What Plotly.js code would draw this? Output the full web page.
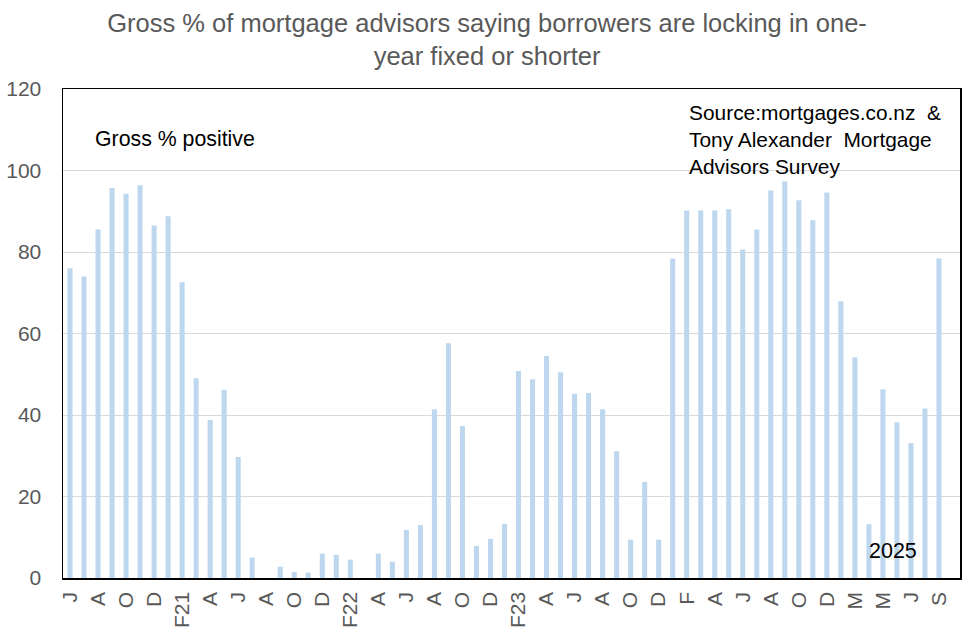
<!DOCTYPE html>
<html>
<head>
<meta charset="utf-8">
<script src="https://cdn.plot.ly/plotly-3.0.1.min.js"></script>
<style>html,body{margin:0;padding:0;background:#fff;}#chart{width:976px;height:637px;}</style>
</head>
<body>
<div id="chart"></div>
<script>
// Survey months (June 2020 to September 2025)
var months = [
  "Jun-20","Jul-20","Aug-20","Sep-20","Oct-20","Nov-20","Dec-20",
  "Jan-21","Feb-21","Mar-21","Apr-21","May-21","Jun-21","Jul-21","Aug-21","Sep-21","Oct-21","Nov-21","Dec-21",
  "Jan-22","Feb-22","Mar-22","Apr-22","May-22","Jun-22","Jul-22","Aug-22","Sep-22","Oct-22","Nov-22","Dec-22",
  "Jan-23","Feb-23","Mar-23","Apr-23","May-23","Jun-23","Jul-23","Aug-23","Sep-23","Oct-23","Nov-23","Dec-23",
  "Jan-24","Feb-24","Mar-24","Apr-24","May-24","Jun-24","Jul-24","Aug-24","Sep-24","Oct-24","Nov-24","Dec-24",
  "Feb-25","Mar-25","Apr-25","May-25","Jun-25","Jul-25","Aug-25","Sep-25"
];
// Gross % positive
var grossPositive = [
  76, 74, 85.5, 95.7, 94.3, 96.4, 86.5,
  88.8, 72.6, 49, 38.8, 46.2, 29.7, 5, 0, 2.8, 1.5, 1.3, 6,
  5.7, 4.5, 0, 6, 4, 11.8, 13, 41.4, 57.6, 37.3, 7.9, 9.6,
  13.3, 50.8, 48.8, 54.5, 50.5, 45.2, 45.4, 41.4, 31.1, 9.4, 23.6, 9.4,
  78.4, 90.2, 90.2, 90.2, 90.5, 80.6, 85.5, 95.1, 97.3, 92.7, 87.8, 94.6,
  67.9, 54.2, 13.2, 46.3, 38.2, 33.1, 41.6, 78.4
];
// Tick labels shown on the x axis
var tickMonths = ["Jun-20","Aug-20","Oct-20","Dec-20","Feb-21","Apr-21","Jun-21","Aug-21","Oct-21","Dec-21",
  "Feb-22","Apr-22","Jun-22","Aug-22","Oct-22","Dec-22","Feb-23","Apr-23","Jun-23","Aug-23","Oct-23","Dec-23",
  "Feb-24","Apr-24","Jun-24","Aug-24","Oct-24","Dec-24","Mar-25","May-25","Jul-25","Sep-25"];
var tickLabels = ["J","A","O","D","F21","A","J","A","O","D",
  "F22","A","J","A","O","D","F23","A","J","A","O","D",
  "F","A","J","A","O","D","M","M","J","S"];
var yTicks = [0, 20, 40, 60, 80, 100, 120];

var grey = "#595959";
var trace = {
  type: "bar",
  x: months,
  y: grossPositive,
  marker: {color: "#BDD7EE"},
  hoverinfo: "x+y"
};
var layout = {
  width: 976, height: 637,
  margin: {l: 63, r: 16, t: 89, b: 59},
  paper_bgcolor: "#fff", plot_bgcolor: "#fff",
  font: {family: "Liberation Sans, Arial, sans-serif", size: 21, color: grey},
  title: {
    text: "Gross % of mortgage advisors saying borrowers are locking in one-<br>year fixed or shorter",
    font: {family: "Liberation Sans, Arial, sans-serif", size: 25.5, color: grey},
    x: 0.499, xanchor: "center", y: 0.95, yanchor: "top"
  },
  bargap: 0.64,
  showlegend: false,
  xaxis: {
    type: "category", range: [-0.5, months.length + 0.5],
    tickmode: "array", tickvals: tickMonths, ticktext: tickLabels,
    tickangle: -90, ticks: "", showgrid: false,
    showline: true, linecolor: "#000", linewidth: 1.5, mirror: true,
    tickfont: {size: 21, color: grey}, zeroline: false, ticklabelstandoff: 4
  },
  yaxis: {
    range: [0, 120], tickmode: "array", tickvals: yTicks,
    showgrid: true, gridcolor: "#D9D9D9", gridwidth: 1,
    showline: true, linecolor: "#000", linewidth: 1.5, mirror: true,
    ticks: "", tickfont: {size: 21, color: grey}, zeroline: false,
    ticklabelstandoff: 16
  },
  annotations: [
    {xref: "paper", yref: "paper", x: 0.034, y: 0.897, xanchor: "left", yanchor: "middle",
     text: "Gross % positive", showarrow: false, font: {size: 21.3, color: "#000"}},
    {xref: "paper", yref: "paper", x: 0.696, y: 0.979, xanchor: "left", yanchor: "top", align: "left",
     text: "Source:mortgages.co.nz  &<br>Tony Alexander  Mortgage<br>Advisors Survey", showarrow: false,
     font: {size: 20.9, color: "#000"}},
    {xref: "paper", yref: "paper", x: 0.896, y: 0.056, xanchor: "left", yanchor: "middle",
     text: "2025", showarrow: false, font: {size: 21.5, color: "#000"}}
  ]
};
Plotly.newPlot("chart", [trace], layout, {displayModeBar: false, staticPlot: true});
</script>
</body>
</html>
